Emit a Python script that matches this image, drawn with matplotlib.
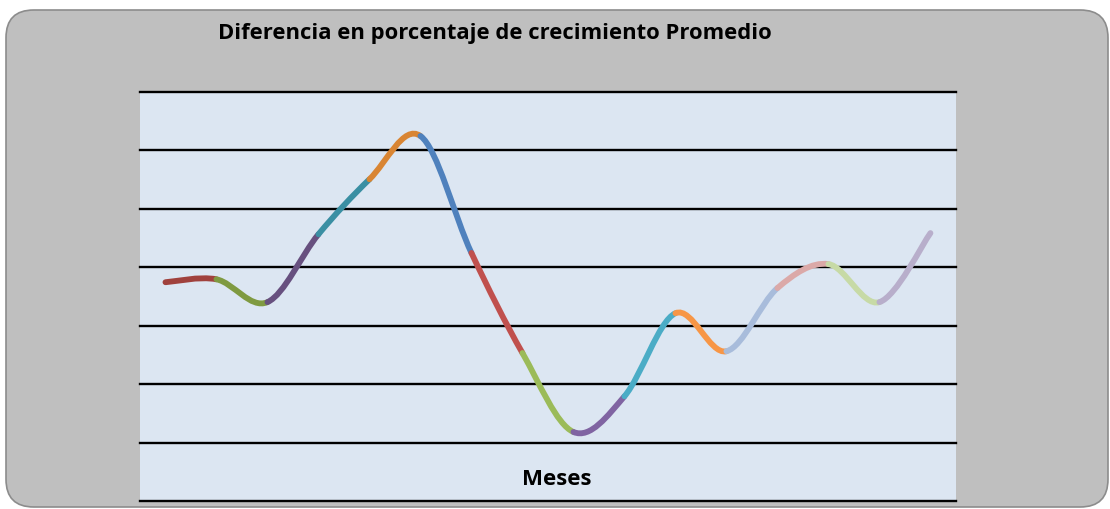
import numpy as np
import matplotlib.pyplot as plt
from matplotlib.path import Path
from matplotlib.patches import PathPatch, FancyBboxPatch

# data (units = gridline steps, no labels shown)
meses = list(range(1, 17))
diferencia = [3.74, 3.79, 3.40, 4.56, 5.50, 6.24, 4.24, 2.53,
              1.18, 1.79, 3.21, 2.56, 3.64, 4.05, 3.40, 4.58]
seg_colors = ['#A0413D', '#7F9A41', '#67507F', '#3A8FA3', '#D98533',
              '#4F81BD', '#C0504D', '#9BBB59', '#8064A2', '#4BACC6',
              '#F79646', '#A8BCDB', '#DBA9A8', '#C7DAA6', '#B8AECB']

fig = plt.figure(figsize=(11.1, 5.09), dpi=100)
fig.patch.set_facecolor('white')

# rounded grey chart area
bg = FancyBboxPatch((6 / 1110, 2 / 509), 1102 / 1110, 497 / 509,
                    boxstyle='round,pad=0,rounding_size=0.025',
                    transform=fig.transFigure, facecolor='#BFBFBF',
                    edgecolor='#8C8C8C', linewidth=1.2, mutation_aspect=1110 / 509,
                    zorder=-5)
fig.patches.append(bg)

ax = fig.add_axes([0.1261, 0.0157, 0.7351, 0.8045])
ax.set_zorder(1)
ax.set_facecolor('#DCE6F2')
x = np.arange(len(meses))
y = np.array(diferencia)
ax.set_xlim(-0.5, len(meses) - 0.5)
ax.set_ylim(0, 7)
for g in range(8):
    ax.axhline(g, color='black', linewidth=1.7, zorder=1, clip_on=False)

# smoothed line (Excel-like bezier), one colour per segment
n = len(x)
for i in range(n - 1):
    p0 = np.array([x[max(i - 1, 0)], y[max(i - 1, 0)]])
    p1 = np.array([x[i], y[i]])
    p2 = np.array([x[i + 1], y[i + 1]])
    p3 = np.array([x[min(i + 2, n - 1)], y[min(i + 2, n - 1)]])
    c1 = p1 + (p2 - p0) / 6
    c2 = p2 - (p3 - p1) / 6
    path = Path([p1, c1, c2, p2], [Path.MOVETO, Path.CURVE4, Path.CURVE4, Path.CURVE4])
    ax.add_patch(PathPatch(path, fill=False, edgecolor=seg_colors[i], linewidth=4.2,
                           capstyle='round', zorder=3))

for s in ax.spines.values():
    s.set_visible(False)
ax.set_xticks([])
ax.set_yticks([])

ax.text(0.511, 0.053, 'Meses', transform=ax.transAxes, ha='center', va='center',
        fontsize=16, fontweight='bold', family='Open Sans')
fig.text(494.5 / 1110, 1 - 34 / 509, 'Diferencia en porcentaje de crecimiento Promedio',
         ha='center', va='center', fontsize=15.8, fontweight='bold', family='Open Sans')

fig.savefig('out.png', dpi=100)
